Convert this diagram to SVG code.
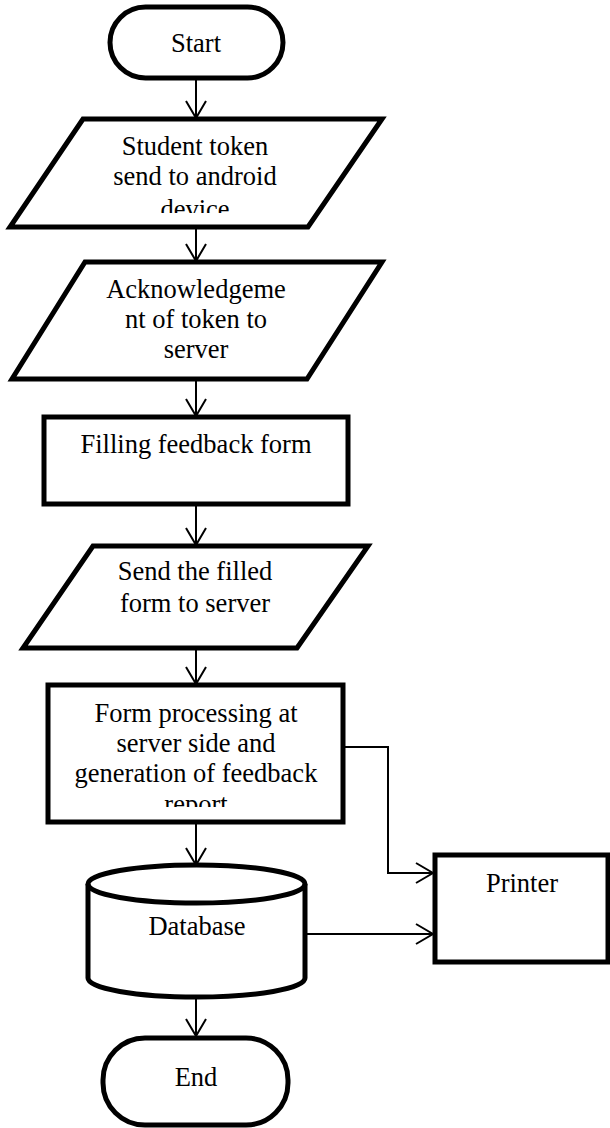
<svg xmlns="http://www.w3.org/2000/svg" width="610" height="1128" viewBox="0 0 610 1128">
<style>
.shape{fill:#fff;stroke:#000;stroke-width:5;stroke-linejoin:miter}
.conn{fill:none;stroke:#000;stroke-width:2}
.lbl{font-size:26.5px;fill:#000;text-anchor:middle}
</style>
<defs>
<marker id="arr" viewBox="0 0 20 22" refX="18" refY="11" markerWidth="20" markerHeight="22" markerUnits="userSpaceOnUse" orient="auto">
<path d="M1,1 L18,11 L1,21" fill="none" stroke="#000" stroke-width="2"/>
</marker>
<clipPath id="clipStudent"><rect x="0" y="120" width="400" height="93"/></clipPath>
<clipPath id="clipForm"><rect x="50" y="687" width="290" height="120"/></clipPath>
</defs>
<rect width="610" height="1128" fill="#fff"/>
<g id="connectors">
<line class="conn" x1="196" y1="78" x2="196" y2="118" marker-end="url(#arr)"/>
<line class="conn" x1="196" y1="227" x2="196" y2="261" marker-end="url(#arr)"/>
<line class="conn" x1="196" y1="379" x2="196" y2="416" marker-end="url(#arr)"/>
<line class="conn" x1="196" y1="505" x2="196" y2="545" marker-end="url(#arr)"/>
<line class="conn" x1="196" y1="648" x2="196" y2="684" marker-end="url(#arr)"/>
<line class="conn" x1="196" y1="822" x2="196" y2="865" marker-end="url(#arr)"/>
<line class="conn" x1="196" y1="997" x2="196" y2="1036" marker-end="url(#arr)"/>
<path class="conn" d="M341,747 L388,747 L388,873 L433,873" marker-end="url(#arr)"/>
<line class="conn" x1="305" y1="934" x2="433" y2="934" marker-end="url(#arr)"/>
</g>
<g font-family="'Liberation Serif', 'Times New Roman', 'DejaVu Serif', serif">
<g id="start">
<rect class="shape" x="110" y="7" width="173" height="71" rx="35.5" ry="35.5"/>
<text class="lbl" x="196" y="52">Start</text>
</g>
<g id="student-token">
<polygon class="shape" points="83,119 382,119 308,227 10,227"/>
<g clip-path="url(#clipStudent)">
<text class="lbl" x="195" y="155">Student token</text>
<text class="lbl" x="195" y="185">send to android</text>
<text class="lbl" x="195" y="218">device</text>
</g>
</g>
<g id="acknowledgement">
<polygon class="shape" points="85,262 382,262 307,379 12,379"/>
<text class="lbl" x="196" y="298">Acknowledgeme</text>
<text class="lbl" x="196" y="328">nt of token to</text>
<text class="lbl" x="196" y="358">server</text>
</g>
<g id="filling">
<rect class="shape" x="44" y="417" width="304" height="87"/>
<text class="lbl" x="196" y="453">Filling feedback form</text>
</g>
<g id="send-form">
<polygon class="shape" points="93,546 368,546 297,648 23,648"/>
<text class="lbl" x="195" y="580">Send the filled</text>
<text class="lbl" x="195" y="612">form to server</text>
</g>
<g id="form-processing">
<rect class="shape" x="48" y="685" width="295" height="137"/>
<g clip-path="url(#clipForm)">
<text class="lbl" x="196" y="722">Form processing at</text>
<text class="lbl" x="196" y="752">server side and</text>
<text class="lbl" x="196" y="782">generation of feedback</text>
<text class="lbl" x="196" y="813">report</text>
</g>
</g>
<g id="database">
<path class="shape" d="M88,884 L88,978 A108.5,19 0 0 0 305,978 L305,884 A108.5,19 0 0 0 88,884 Z"/>
<path class="shape" style="fill:none" d="M88,884 A108.5,19 0 0 0 305,884"/>
<text class="lbl" x="197" y="935">Database</text>
</g>
<g id="printer">
<rect class="shape" x="435" y="855" width="173" height="107"/>
<text class="lbl" x="522" y="892">Printer</text>
</g>
<g id="end">
<rect class="shape" x="103" y="1038" width="185" height="87" rx="42" ry="42"/>
<text class="lbl" x="196" y="1086">End</text>
</g>
</g>
</svg>
